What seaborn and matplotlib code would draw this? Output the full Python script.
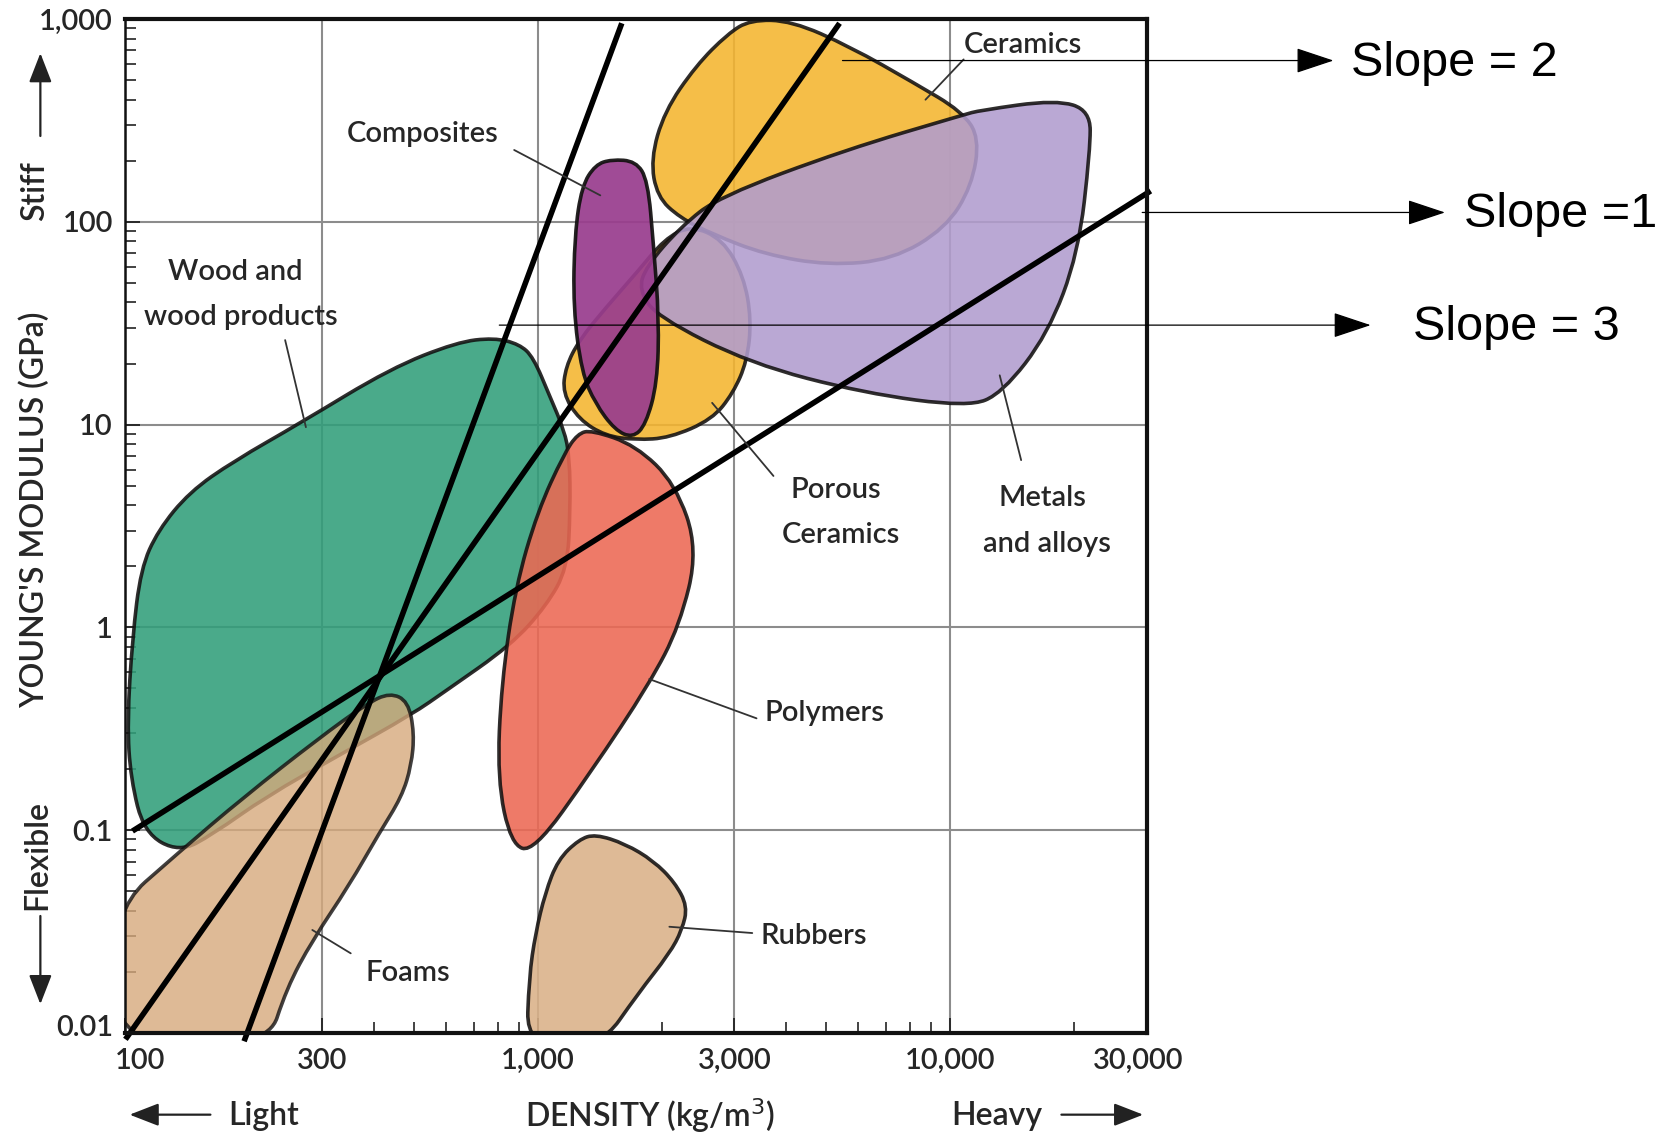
import numpy as np
import pandas as pd
import matplotlib
matplotlib.use('Agg')
import matplotlib.pyplot as plt
import seaborn as sns
from matplotlib.path import Path
from matplotlib.patches import PathPatch, FancyArrowPatch
from matplotlib.ticker import FixedLocator, LogLocator, NullFormatter
from matplotlib.transforms import ScaledTranslation
from matplotlib.colors import to_rgb

sns.set_theme(style='white')
plt.rcParams['font.family'] = ['Lato', 'DejaVu Sans']

# ---------------- data (density kg/m3, Young's modulus GPa) ----------------
wood_density = [111, 103, 101, 104, 109, 120, 143, 183, 266, 439, 637, 784, 903, 976, 1070, 1160,
                1195, 1200, 1180, 1050, 862, 600, 496, 332, 219, 163, 135]
wood_modulus = [0.097, 0.179, 0.339, 0.891, 1.95, 3.01, 4.65, 6.6, 10.2, 18.9, 25.5, 26.8, 24.9, 21.5,
                13.8, 9.37, 6.93, 3.79, 1.95, 1.28, 0.818, 0.488, 0.373, 0.236, 0.146, 0.0955, 0.0778]

foams_density = [93, 93, 134, 194, 294, 385, 438, 485, 502, 494, 468, 413, 348, 284, 246, 221]
foams_modulus = [0.0085, 0.040, 0.077, 0.146, 0.283, 0.421, 0.476, 0.432, 0.301, 0.209, 0.146,
                 0.097, 0.053, 0.0286, 0.0166, 0.0085]

polymers_density = [1350, 1730, 2160, 2450, 2210, 1870, 1350, 977, 862, 798, 817, 883, 1000, 1160, 1250]
polymers_modulus = [9.4, 7.9, 5.1, 2.42, 1.02, 0.53, 0.195, 0.078, 0.085, 0.179, 0.53, 1.57, 3.74, 7.2, 9.0]

rubbers_density = [940, 953, 988, 1043, 1120, 1260, 1380, 1630, 1910, 2150, 2310, 2240, 2090, 1750, 1420]
rubbers_modulus = [0.0085, 0.0188, 0.031, 0.049, 0.0715, 0.090, 0.0955, 0.0857, 0.0706, 0.0554,
                   0.0421, 0.0322, 0.0247, 0.0156, 0.0085]

porous_density = [2350, 2810, 3160, 3300, 3220, 2980, 2650, 2090, 1730, 1460, 1260, 1150, 1170, 1260,
                  1460, 1750, 2030]
porous_modulus = [96, 82, 54, 33, 20.5, 14.3, 10.6, 8.6, 8.4, 8.8, 10.6, 14.3, 19.3, 26, 37.5, 57, 82]

ceramics_density = [3280, 4130, 5730, 8170, 10700, 11800, 11300, 9770, 7260, 5080, 3560, 2650, 2210,
                    1950, 1880, 2030, 2420, 2890]
ceramics_modulus = [990, 980, 730, 485, 350, 259, 150, 93, 65, 61, 69, 87, 105, 133, 203, 350, 588, 845]

metals_density = [10800, 5560, 2760, 2230, 1830, 1760, 1950, 3280, 6180, 11100, 13400, 17300, 20500,
                  21900, 21900, 18100, 11800]
metals_modulus = [337, 226, 133, 95, 60, 46, 34, 20, 14.3, 12.2, 14.3, 28, 70, 226, 354, 400, 354]

composites_density = [1510, 1730, 1850, 1910, 1970, 1950, 1830, 1700, 1540, 1380, 1280, 1220, 1230, 1280, 1380]
composites_modulus = [203, 199, 160, 77, 33, 16, 10, 8.6, 9.4, 12.7, 18, 37.5, 87, 150, 191]

line_names = ['Slope = 3', 'Slope = 3', 'Slope = 2', 'Slope = 2', 'Slope = 1', 'Slope = 1']
line_density = [194, 1600, 100, 5400, 104, 30700]
line_modulus = [0.0091, 953, 0.0093, 953, 0.099, 142]

x_ticks = [100, 300, 1000, 3000, 10000, 30000]
x_tick_labels = ['100', '300', '1,000', '3,000', '10,000', '30,000']
y_ticks = [0.01, 0.1, 1, 10, 100, 1000]
y_tick_labels = ['0.01', '0.1', '1', '10', '100', '1,000']

family_labels = ['Ceramics', 'Composites', 'Wood and', 'wood products', 'Porous', 'Ceramics',
                 'Metals', 'and alloys', 'Polymers', 'Rubbers', 'Foams']
family_label_density = [15070, 527, 185, 190, 5300, 5425, 16750, 17160, 4966, 4677, 485]
family_label_modulus = [748, 272, 56.6, 34.1, 4.76, 2.87, 4.33, 2.58, 0.378, 0.030, 0.0197]

leader_d0 = [10800, 877, 244, 2650, 13210, 1865, 2087, 284]
leader_e0 = [632, 226, 26.1, 12.8, 17.5, 0.556, 0.0334, 0.0322]
leader_d1 = [8726, 1419, 274, 3733, 14890, 3396, 3316, 352]
leader_e1 = [400, 135, 9.71, 5.58, 6.68, 0.356, 0.0311, 0.0247]

# ---------------- figure ----------------
fig = plt.figure(figsize=(16.66, 11.38), dpi=100)
ax = fig.add_axes([0.0753, 0.0923, 0.6129, 0.891])
ax.set_xscale('log')
ax.set_yscale('log')
ax.set_xlim(100, 30000)
ax.set_ylim(0.01, 1000)
ax.set_axisbelow(True)
ax.grid(True, which='major', color='#8c8c8c', lw=1.5)


def face_for(target, alpha):
    t = np.array(to_rgb(target))
    f = (t - (1 - alpha)) / alpha
    return tuple(np.clip(f, 0, 1))


def blob(ax, xs, ys, target, z, alpha=0.88):
    pts = list(zip(xs, ys))
    n = len(pts)

    def mid(a, b):
        return (np.sqrt(a[0] * b[0]), np.sqrt(a[1] * b[1]))
    start = mid(pts[-1], pts[0])
    verts = [start]
    codes = [Path.MOVETO]
    for i in range(n):
        p = pts[i]
        q = pts[(i + 1) % n]
        verts += [p, mid(p, q)]
        codes += [Path.CURVE3, Path.CURVE3]
    verts.append(start)
    codes.append(Path.CLOSEPOLY)
    patch = PathPatch(Path(verts, codes), facecolor=face_for(target, alpha), edgecolor='#121010',
                      lw=2.6, alpha=alpha, zorder=z, transform=ax.transData)
    ax.add_patch(patch)


blob(ax, wood_density, wood_modulus, '#4aaa8a', 1)
blob(ax, foams_density, foams_modulus, '#deba96', 2, alpha=0.8)
blob(ax, polymers_density, polymers_modulus, '#ee7a68', 3)
blob(ax, rubbers_density, rubbers_modulus, '#deba96', 3)
blob(ax, porous_density, porous_modulus, '#f5be48', 2)
blob(ax, ceramics_density, ceramics_modulus, '#f5be48', 2)
blob(ax, metals_density, metals_modulus, '#baa8d4', 4)
blob(ax, composites_density, composites_modulus, '#a04b96', 5, alpha=0.93)

# slope lines through seaborn
lines_df = pd.DataFrame({'line': line_names, 'density': line_density, 'modulus': line_modulus})
n_before = len(ax.lines)
sns.lineplot(data=lines_df, x='density', y='modulus', units='line', estimator=None,
             color='black', linewidth=4.0, sort=False, legend=False, ax=ax)
for ln in ax.lines[n_before:]:
    ln.set_clip_on(False)
    ln.set_zorder(10)
    ln.set_solid_capstyle('butt')

txt_kw = dict(color='#262626', fontweight='semibold')

for t, d, e in zip(family_labels, family_label_density, family_label_modulus):
    ax.text(d, e, t, ha='center', va='center', fontsize=21, zorder=12, **txt_kw)
for d0, e0, d1, e1 in zip(leader_d0, leader_e0, leader_d1, leader_e1):
    ax.plot([d0, d1], [e0, e1], color='#333333', lw=1.3, zorder=11)

# ticks
ax.xaxis.set_major_locator(FixedLocator(x_ticks))
ax.set_xticklabels(x_tick_labels)
ax.xaxis.set_minor_locator(LogLocator(base=10, subs=np.arange(2, 10)))
ax.xaxis.set_minor_formatter(NullFormatter())
ax.yaxis.set_major_locator(FixedLocator(y_ticks))
ax.set_yticklabels(y_tick_labels)
ax.yaxis.set_minor_locator(LogLocator(base=10, subs=np.arange(2, 10)))
ax.yaxis.set_minor_formatter(NullFormatter())
ax.tick_params(which='both', direction='in', left=True, bottom=True, top=False, right=False,
               color='#222222', labelcolor='#262626')
ax.tick_params(which='major', length=11, width=1.3, labelsize=21)
ax.tick_params(which='minor', length=8, width=1.2)
ax.tick_params(axis='x', which='major', pad=11)
ax.tick_params(axis='y', which='major', pad=9)
for lab in ax.get_xticklabels() + ax.get_yticklabels():
    lab.set_fontweight('semibold')
ax.set_xlabel('')
ax.set_ylabel('')

xl = ax.get_xticklabels()
xl[0].set_transform(xl[0].get_transform() + ScaledTranslation(0.15, 0, fig.dpi_scale_trans))
xl[-1].set_transform(xl[-1].get_transform() + ScaledTranslation(-0.08, 0, fig.dpi_scale_trans))
yl = ax.get_yticklabels()
yl[0].set_transform(yl[0].get_transform() + ScaledTranslation(0, 0.07, fig.dpi_scale_trans))

for side, lw in [('left', 1.8), ('right', 3.0), ('top', 3.0), ('bottom', 3.0)]:
    ax.spines[side].set_color('#111111')
    ax.spines[side].set_linewidth(lw)
    ax.spines[side].set_zorder(20)
    ax.spines[side].set_visible(True)

# slope annotations (figure fraction)
arrow_kw = dict(arrowstyle='-|>,head_length=1.2,head_width=0.4', mutation_scale=20,
                color='black', lw=0.9, shrinkA=0, shrinkB=0)
slope_texts = ['Slope = 2', 'Slope =1', 'Slope = 3']
slope_start = [(0.5057, 0.9468), (0.6856, 0.8133), (0.2997, 0.7143)]
slope_end = [(0.8004, 0.9468), (0.8673, 0.8133), (0.8227, 0.7143)]
slope_text_pos = [(0.8112, 0.9440), (0.8788, 0.8114), (0.8482, 0.7124)]
for t, s, e, p in zip(slope_texts, slope_start, slope_end, slope_text_pos):
    fig.patches.append(FancyArrowPatch(s, e, transform=fig.transFigure, zorder=15, **arrow_kw))
    fig.text(p[0], p[1], t, ha='left', va='center', fontsize=35,
             family=['Liberation Sans', 'DejaVu Sans'], color='black')

# axis side labels
side_kw = dict(fontsize=23, **txt_kw)
fig.text(0.02105, 0.5518, "YOUNG'S MODULUS (GPa)", rotation=90, ha='center', va='center', **side_kw)
fig.text(0.02105, 0.8319, 'Stiff', rotation=90, ha='center', va='center', **side_kw)
fig.text(0.02232, 0.2484, 'Flexible', rotation=90, ha='center', va='center', **side_kw)
fig.text(0.1582, 0.0196, 'Light', ha='center', va='center', **side_kw)
fig.text(0.3903, 0.0196, 'DENSITY (kg/m$^3$)', ha='center', va='center', **side_kw)
fig.text(0.5982, 0.0196, 'Heavy', ha='center', va='center', **side_kw)
small_arrow = dict(arrowstyle='-|>,head_length=0.9,head_width=0.35', mutation_scale=20,
                   color='#222222', lw=1.6, shrinkA=0, shrinkB=0)
for s, e in [((0.02423, 0.8805), (0.02423, 0.9533)),
             ((0.02423, 0.1951), (0.02423, 0.1176)),
             ((0.1263, 0.0205), (0.0778, 0.0205)),
             ((0.6371, 0.0205), (0.6862, 0.0205))]:
    fig.patches.append(FancyArrowPatch(s, e, transform=fig.transFigure, **small_arrow))

fig.savefig('out.png', dpi=100)
